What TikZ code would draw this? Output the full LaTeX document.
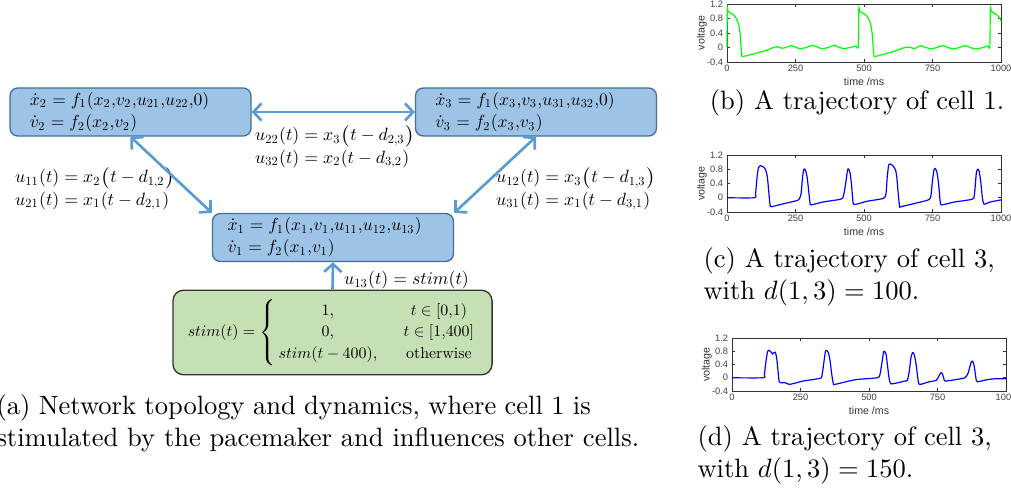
\documentclass[tikz,border=0pt]{standalone}
\usepackage{amsmath}
\usepackage{amssymb}
\usepackage{fontspec}
\newfontfamily\plotfont{Liberation Sans}
\newfontfamily\lmten{lmroman10-regular.otf}
\usepackage{tikz}
\usetikzlibrary{arrows.meta, positioning}
% one design size for the small math
\DeclareFontShape{OML}{cmm}{m}{it}{<->cmmi10}{}
\DeclareFontShape{OT1}{cmr}{m}{n}{<->cmr10}{}
\DeclareFontShape{OMS}{cmsy}{m}{n}{<->cmsy10}{}
\definecolor{cellfill}{HTML}{9DC3E6}
\definecolor{cellborder}{HTML}{41719C}
\definecolor{stimfill}{HTML}{C5E0B4}
\definecolor{linkblue}{HTML}{5B9BD5}
\tikzset{
    cellbox/.style={rectangle, rounded corners=3pt, draw=cellborder, line width=0.5pt, fill=cellfill, text width=2.663cm, inner xsep=0.265cm, inner ysep=1pt, minimum height=0.636cm, align=left, font=\fontsize{6.6}{8.3}\selectfont},
    stimbox/.style={rectangle, rounded corners=4pt, draw=black!80, line width=0.5pt, fill=stimfill, minimum width=4.227cm, minimum height=1.047cm, font=\fontsize{6}{8.1}\selectfont},
    delaylabel/.style={align=left, inner sep=1pt, font=\fontsize{6.7}{6.9}\selectfont},
    link/.style={line width=1pt, draw=linkblue, >={Straight Barb[length=3pt,width=6.5pt]}},
    twoway/.style={link, <->},
    oneway/.style={link, ->},
    subcaption/.style={align=left, inner sep=0pt, font=\normalsize},
    trajframe/.style n args={3}{shift={(#1,#2)}, xscale=0.274, yscale=#3},
    axisline/.style={draw=black!80, line width=0.3pt},
    ticklabel/.style={inner sep=1pt, text=black!75, font=\plotfont\fontsize{3.5}{4}\selectfont},
    axislabel/.style={inner sep=0pt, text=black!80, font=\plotfont\fontsize{4}{5}\selectfont},
    greentrace/.style={draw=green, line width=0.45pt},
    bluetrace/.style={draw=blue, line width=0.45pt}
}

\begin{document}
\begin{tikzpicture}[x=0.01325cm, y=-0.01325cm]
\useasboundingbox (0,0) rectangle (1011,487);

% Nodes
\node (cellTwo) [cellbox] at (130.5,112) {\mbox{$\dot{x}_2 = f_1(x_2{,}v_2{,}u_{21}{,}u_{22}{,}0)$}\\ \mbox{$\dot{v}_2 = f_2(x_2{,}v_2)$}};
\node (cellThree) [cellbox] at (536,112) {\mbox{$\dot{x}_3 = f_1(x_3{,}v_3{,}u_{31}{,}u_{32}{,}0)$}\\ \mbox{$\dot{v}_3 = f_2(x_3{,}v_3)$}};
\node (cellOne) [cellbox, inner xsep=0.2cm, text width=2.793cm] at (333,237.5) {\mbox{$\dot{x}_1 = f_1(x_1{,}v_1{,}u_{11}{,}u_{12}{,}u_{13})$}\\ \mbox{$\dot{v}_1 = f_2(x_1{,}v_1)$}};
\node (pacer) [stimbox] at (332.5,332.5) {$stim(t) = \left\{\begin{array}{@{\,}c@{\hspace{10pt}}c@{}} 1, & t \in [0{,}1)\\ 0, & t \in [1{,}400]\\ stim(t-400), & \text{\lmten otherwise} \end{array}\right.$};

\node (delayTop) [delaylabel, anchor=west] at (252,147) {$u_{22}(t) = x_3\bigl(t - d_{2,3}\bigr)$\\ $u_{32}(t) = x_2(t - d_{3,2})$};
\node (delayLeft) [delaylabel, anchor=west] at (12,189) {$u_{11}(t) = x_2\bigl(t - d_{1,2}\bigr)$\\ $u_{21}(t) = x_1(t - d_{2,1})$};
\node (delayRight) [delaylabel, anchor=west] at (493,189) {$u_{12}(t) = x_3\bigl(t - d_{1,3}\bigr)$\\ $u_{31}(t) = x_1(t - d_{3,1})$};
\node (delayStim) [delaylabel, anchor=west] at (341,280) {$u_{13}(t) = stim(t)$};

% Connectors
\draw [twoway] (cellTwo) -- (cellThree);
\draw [twoway] (cellTwo.south) -- (cellOne.north west);
\draw [twoway] (cellThree.south) -- (cellOne.north east);
\draw [oneway] (pacer.north) -- (cellOne.south);

% Trajectory frames
\foreach \ox/\oy/\vs in {727/47.5/-36.25, 727/197.75/-35.625, 732/377.75/-33.125} {
  \begin{scope}[trajframe={\ox}{\oy}{\vs}]
    \draw [axisline] (0,-0.4) rectangle (1000,1.2);
    \foreach \t in {0,250,500,750,1000} {
      \draw [axisline] (\t,-0.4) -- (\t,{-0.4-3/\vs});
      \draw [axisline] (\t,1.2) -- (\t,{1.2+3/\vs});
      \node [ticklabel, anchor=north] at (\t,-0.4) {\t};
    }
    \foreach \v in {-0.4,0,0.4,0.8,1.2} {
      \draw [axisline] (0,\v) -- (11,\v);
      \draw [axisline] (1000,\v) -- (989,\v);
      \node [ticklabel, anchor=east, xshift=-0.3pt] at (0,\v) {\v};
    }
    \node [axislabel, rotate=90] at (-92,0.4) {voltage};
    \node [axislabel, yshift=-7.5pt] at (500,-0.4) {time /ms};
  \end{scope}
}

% Traces
\begin{scope}[trajframe={727}{47.5}{-36.25}]
  \draw [greentrace] plot [smooth, tension=0.4] coordinates {(0,0) (1,1.06) (4,1.0) (10,0.96) (20,0.92) (30,0.85) (38,0.74) (44,0.58) (48,0.35) (51,0.05) (54,-0.2) (57,-0.25) (100,-0.17) (140,-0.09) (160,-0.03) (172,0.01) (185,0.02) (200,-0.02) (215,0.0) (232,0.05) (248,0.02) (265,-0.03) (290,0.0) (312,0.06) (328,0.02) (345,-0.03) (370,0.0) (390,0.06) (405,0.02) (425,-0.03) (450,0.0) (470,0.04) (479,0.03) (481,1.06) (485,1.0) (492,0.96) (502,0.92) (512,0.85) (520,0.74) (526,0.58) (530,0.35) (533,0.05) (536,-0.2) (539,-0.25) (580,-0.17) (620,-0.08) (640,-0.02) (655,0.01) (670,0.0) (686,-0.03) (705,0.05) (722,0.01) (745,-0.04) (765,0.0) (786,0.05) (803,0.01) (825,-0.04) (848,0.0) (869,0.05) (885,0.01) (905,-0.04) (930,-0.01) (950,0.04) (959,0.03) (961,1.06) (965,1.0) (972,0.96) (982,0.92) (992,0.84) (1000,0.74)};
\end{scope}
\begin{scope}[trajframe={727}{197.75}{-35.625}]
  \draw [bluetrace] plot [smooth, tension=0.4] coordinates {(0,0) (100,0) (104,0.1) (110,0.6) (115,0.85) (121,0.9) (130,0.88) (140,0.8) (147,0.6) (152,0.2) (157,-0.2) (163,-0.25) (200,-0.18) (250,-0.09) (262,-0.05) (270,0.1) (276,0.6) (281,0.8) (286,0.78) (292,0.6) (298,0.2) (303,-0.15) (308,-0.2) (350,-0.12) (415,-0.04) (425,0.05) (433,0.4) (440,0.78) (444,0.8) (449,0.7) (454,0.4) (459,-0.05) (464,-0.19) (510,-0.1) (570,-0.02) (580,0.1) (585,0.6) (590,0.92) (595,0.95) (605,0.9) (615,0.78) (620,0.55) (625,0.1) (630,-0.25) (635,-0.25) (690,-0.15) (735,-0.06) (744,0.05) (750,0.5) (756,0.8) (760,0.82) (766,0.72) (772,0.4) (778,-0.1) (783,-0.2) (830,-0.12) (895,-0.04) (903,0.1) (910,0.7) (915,0.8) (920,0.75) (926,0.45) (932,0.0) (938,-0.18) (960,-0.12) (1000,-0.06)};
\end{scope}
\begin{scope}[trajframe={732}{377.75}{-33.125}]
  \draw [bluetrace] plot [smooth, tension=0.4] coordinates {(0,0) (113,0) (118,0.1) (124,0.5) (130,0.8) (135,0.83) (142,0.78) (148,0.72) (153,0.76) (158,0.77) (163,0.6) (168,0.2) (172,-0.12) (178,-0.15) (195,-0.15) (210,-0.2) (260,-0.1) (320,-0.02) (328,0.05) (335,0.45) (341,0.8) (346,0.82) (352,0.75) (358,0.5) (364,0.1) (370,-0.18) (376,-0.2) (450,-0.06) (530,0.0) (540,0.1) (548,0.5) (553,0.78) (556,0.8) (562,0.72) (567,0.4) (573,0.0) (579,-0.18) (600,-0.16) (630,-0.1) (640,-0.08) (647,0.2) (653,0.6) (659,0.76) (665,0.7) (672,0.4) (678,0.0) (684,-0.2) (720,-0.12) (745,-0.08) (755,0.05) (763,0.16) (768,0.12) (773,-0.02) (778,-0.1) (820,-0.05) (850,0.0) (862,0.15) (872,0.45) (878,0.5) (884,0.35) (890,0.0) (895,-0.12) (930,-0.06) (960,-0.03) (1000,-0.03)};
\end{scope}

% Captions
\node (capA) [subcaption, anchor=west] at (-4,423) {\makebox[7.87cm][s]{(a) Network topology and dynamics, where cell 1 is}\\stimulated by the pacemaker and influences other cells.};
\node (capB) [subcaption] at (857,103) {(b) A trajectory of cell 1.};
\node (capC) [subcaption, anchor=west] at (703,277) {(c) A trajectory of cell 3,\\with $d(1,3) = 100$.};
\node (capD) [subcaption, anchor=west] at (697,455) {(d) A trajectory of cell 3,\\with $d(1,3) = 150$.};

\end{tikzpicture}
\end{document}
